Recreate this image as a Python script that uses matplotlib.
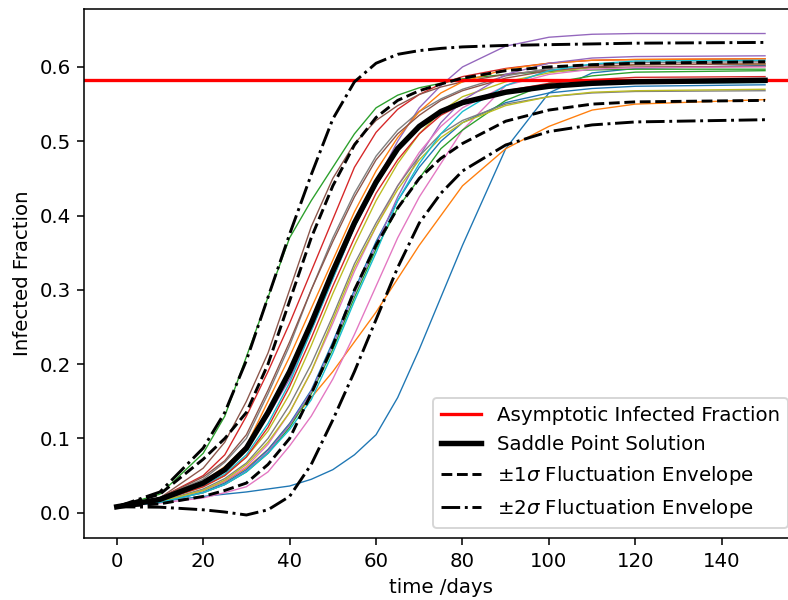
import numpy as np
import matplotlib
matplotlib.use("Agg")
import matplotlib.pyplot as plt

# time grid (days) shared by all curves
t_days = [0, 10, 20, 25, 30, 35, 40, 45, 50, 55, 60, 65, 70, 75, 80, 90, 100, 110, 120, 150]

asymptotic = 0.583

saddle = [.008, .018, .040, .058, .087, .135, .190, .255, .325, .390, .445, .490, .520, .540, .552, .566, .574, .578, .580, .582]
upper_1sig = [.008, .025, .072, .100, .135, .200, .285, .370, .440, .495, .532, .555, .568, .577, .585, .595, .600, .603, .605, .607]
lower_1sig = [.008, .012, .022, .030, .040, .065, .100, .160, .225, .300, .360, .410, .450, .477, .497, .527, .542, .550, .553, .555]
upper_2sig = [.008, .028, .087, .135, .205, .290, .375, .455, .530, .580, .605, .617, .622, .625, .627, .629, .630, .631, .632, .633]
lower_2sig = [.008, .0075, .004, .001, -.003, .004, .022, .065, .125, .190, .260, .330, .390, .430, .460, .495, .513, .522, .526, .529]

# individual stochastic runs
sim_runs = [
    [.008, .015, .022, .025, .028, .032, .036, .045, .058, .078, .105, .155, .220, .290, .360, .490, .565, .592, .598, .602],
    [.008, .015, .030, .042, .060, .085, .120, .155, .190, .230, .270, .315, .360, .400, .440, .490, .520, .542, .550, .556],
    [.008, .025, .080, .130, .210, .290, .370, .420, .465, .510, .545, .562, .572, .578, .584, .590, .594, .596, .597, .597],
    [.008, .020, .050, .078, .130, .190, .255, .325, .395, .465, .512, .543, .563, .577, .587, .598, .605, .609, .610, .611],
    [.008, .017, .040, .060, .090, .130, .180, .245, .315, .385, .445, .500, .545, .575, .600, .628, .640, .644, .645, .645],
    [.008, .020, .060, .095, .150, .215, .300, .385, .450, .497, .528, .548, .563, .573, .580, .590, .596, .599, .600, .601],
    [.008, .013, .020, .027, .035, .055, .090, .130, .180, .240, .305, .370, .425, .470, .515, .575, .595, .601, .603, .605],
    [.008, .020, .045, .068, .100, .160, .225, .300, .370, .430, .480, .515, .540, .557, .570, .588, .598, .603, .606, .607],
    [.008, .016, .035, .050, .075, .110, .160, .225, .295, .360, .420, .470, .510, .540, .560, .580, .592, .600, .603, .604],
    [.008, .017, .036, .052, .078, .120, .175, .245, .315, .385, .440, .488, .520, .540, .553, .567, .574, .577, .578, .579],
    [.008, .014, .028, .040, .058, .085, .120, .165, .230, .300, .365, .420, .465, .500, .525, .552, .565, .571, .574, .576],
    [.008, .019, .042, .062, .090, .150, .210, .275, .340, .405, .460, .505, .540, .565, .580, .597, .605, .609, .610, .611],
    [.008, .014, .027, .038, .055, .080, .115, .160, .220, .290, .355, .410, .450, .490, .515, .555, .578, .588, .593, .595],
    [.008, .016, .035, .050, .075, .115, .170, .235, .305, .370, .430, .475, .510, .535, .550, .568, .578, .583, .586, .587],
    [.008, .014, .027, .038, .056, .082, .118, .163, .225, .295, .360, .425, .480, .525, .555, .590, .605, .612, .614, .615],
    [.008, .020, .048, .070, .105, .165, .230, .300, .365, .425, .475, .510, .535, .555, .568, .585, .595, .600, .603, .604],
    [.008, .015, .030, .043, .062, .092, .135, .190, .255, .325, .385, .440, .485, .520, .545, .575, .590, .597, .599, .600],
    [.008, .015, .032, .046, .067, .100, .145, .200, .265, .335, .390, .440, .480, .510, .528, .550, .560, .565, .567, .568],
    [.008, .015, .030, .044, .065, .095, .135, .190, .260, .330, .385, .435, .475, .505, .525, .548, .560, .566, .568, .570],
    [.008, .014, .027, .038, .055, .080, .112, .152, .215, .285, .350, .420, .470, .510, .540, .575, .595, .604, .608, .609],
]

plt.rcParams["font.size"] = 10.2

fig = plt.figure(figsize=(788 / 140, 600 / 140), dpi=140)
ax = fig.add_axes([0.107, 0.1033, 0.905, 0.8817])

for i, run in enumerate(sim_runs):
    ax.plot(t_days, run, color="C%d" % (i % 10), linewidth=0.7)

ax.axhline(asymptotic, color="red", linewidth=1.7, label="Asymptotic Infected Fraction")
ax.plot(t_days, saddle, color="black", linewidth=2.8, label="Saddle Point Solution")
ax.plot(t_days, upper_1sig, "k--", linewidth=1.5, label=r"$\pm1\sigma$ Fluctuation Envelope")
ax.plot(t_days, lower_1sig, "k--", linewidth=1.5)
ax.plot(t_days, upper_2sig, "k-.", linewidth=1.5, label=r"$\pm2\sigma$ Fluctuation Envelope")
ax.plot(t_days, lower_2sig, "k-.", linewidth=1.5)

ax.set_xlim(-7.5, 157.5)
ax.set_ylim(-0.034, 0.678)
ax.set_xticks(np.arange(0, 141, 20))
ax.set_xlabel("time /days")
ax.set_ylabel("Infected Fraction")
ax.legend(loc="lower right")

fig.savefig("out.png", dpi=140)
